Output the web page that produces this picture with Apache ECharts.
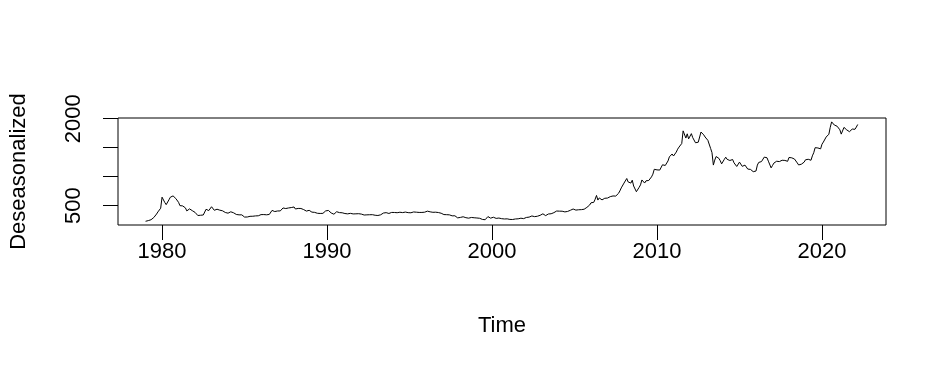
<!DOCTYPE html>
<html>
<head>
<meta charset="utf-8">
<script src="https://cdn.jsdelivr.net/npm/echarts@6/dist/echarts.min.js"></script>
<style>html,body{margin:0;padding:0;background:#fff}#c{width:946px;height:372px}</style>
</head>
<body>
<div id="c"></div>
<script>
// Monthly deseasonalized values, starting January 1979
const startYear = 1979;
const vals1979_1984 = [
  230,245,242,239,257,279,295,301,355,392,392,456,
  646,640,554,517,514,600,645,627,668,650,623,596,
  557,500,499,495,480,461,409,410,444,437,413,410,
  384,374,330,350,334,315,339,364,437,422,415,444,
  481,491,420,432,438,413,422,416,411,394,382,388,
  370,386,394,381,377,378,348,348,341,340,341,320
];
const vals1985_1990 = [
  303,299,304,325,316,317,317,330,323,326,325,322,
  345,339,346,340,342,343,348,376,418,423,398,391,
  408,401,409,438,460,450,450,461,460,465,467,486,
  477,442,443,452,451,451,437,432,413,406,420,419,
  404,388,390,384,371,368,375,365,362,367,394,409,
  410,417,393,374,369,352,362,395,389,380,381,377
];
const vals1991_1996 = [
  383,364,363,358,357,367,368,357,349,359,361,361,
  354,354,345,338,337,341,353,343,345,344,335,334,
  329,330,330,342,367,372,392,379,355,365,373,383,
  387,382,384,378,381,386,385,380,391,389,384,379,
  379,377,382,391,385,387,386,383,383,383,386,387,
  400,405,396,393,392,385,383,387,383,381,378,369
];
const vals1997_2002 = [
  355,346,352,344,344,341,324,324,323,325,306,289,
  289,297,296,308,299,292,293,284,289,296,294,291,
  287,287,286,282,277,262,256,257,264,311,293,284,
  284,300,286,280,275,286,282,275,273,270,266,272,
  266,262,263,261,272,270,268,273,283,283,276,276,
  282,296,294,302,314,322,314,310,319,317,319,333
];
const vals2003_2008 = [
  357,359,341,328,355,356,351,360,379,379,389,407,
  414,405,406,404,384,392,398,400,406,420,439,442,
  424,423,434,429,422,431,424,438,456,470,476,510,
  549,555,557,610,676,596,633,632,599,585,627,629,
  631,665,655,679,667,655,665,665,712,754,806,803,
  889,922,968,909,888,889,939,839,829,740,760,816
];
const vals2009_2014 = [
  858,943,924,890,928,946,934,949,996,1043,1127,1135,
  1117,1095,1114,1148,1205,1232,1193,1215,1271,1342,1370,1391,
  1356,1372,1424,1474,1510,1529,1572,1790,1775,1666,1739,1652,
  1656,1742,1673,1650,1585,1596,1594,1626,1770,1747,1721,1684,
  1671,1627,1593,1487,1414,1200,1286,1347,1349,1316,1275,1221,
  1244,1300,1336,1299,1288,1279,1311,1296,1239,1223,1176,1202
];
const vals2015_2022 = [
  1251,1227,1178,1198,1199,1181,1131,1117,1125,1159,1086,1065,
  1097,1200,1246,1243,1260,1276,1337,1341,1326,1267,1236,1152,
  1192,1234,1231,1266,1246,1260,1236,1283,1314,1280,1282,1265,
  1331,1331,1325,1335,1304,1282,1238,1202,1199,1215,1221,1250,
  1291,1320,1300,1285,1283,1359,1413,1500,1511,1495,1471,1480,
  1560,1597,1591,1683,1716,1732,1850,1945,1915,1890,1860,1870,
  1867,1808,1734,1760,1850,1834,1807,1785,1776,1777,1821,1790,
  1817,1856,1900
];
const xTicks = [1980, 1990, 2000, 2010, 2020];
const yTicks = [500, 1000, 1500, 2000];
const yLabels = [500, 2000];

const allVals = [].concat(vals1979_1984, vals1985_1990, vals1991_1996,
  vals1997_2002, vals2003_2008, vals2009_2014, vals2015_2022);
const seriesData = allVals.map((v, i) => [startYear + i / 12, v]);

const font = 'Liberation Sans, Arial, sans-serif';
const chart = echarts.init(document.getElementById('c'), null, {renderer: 'canvas'});
chart.setOption({
  animation: false,
  backgroundColor: '#ffffff',
  grid: {left: 118, right: 60, top: 118, bottom: 147, show: true,
         containLabel: false, outerBoundsMode: 'none',
         borderColor: '#000', borderWidth: 1, backgroundColor: 'transparent'},
  xAxis: {
    type: 'value', min: 1977.33, max: 2023.88,
    splitLine: {show: false},
    axisLine: {show: false},
    axisTick: {show: true, length: 15, customValues: xTicks, lineStyle: {color: '#000', width: 1}},
    axisLabel: {customValues: xTicks, formatter: v => String(v), color: '#000', fontSize: 22, fontFamily: font, margin: 16},
    name: 'Time', nameLocation: 'middle', nameGap: 90,
    nameTextStyle: {color: '#000', fontSize: 22, fontFamily: font}
  },
  yAxis: {
    type: 'value', min: 166, max: 2012,
    splitLine: {show: false},
    axisLine: {show: false},
    axisTick: {show: true, length: 15, customValues: yTicks, lineStyle: {color: '#000', width: 1}},
    axisLabel: {customValues: yLabels, formatter: v => String(v), rotate: 90, color: '#000', fontSize: 22, fontFamily: font, margin: 33},
    name: 'Deseasonalized', nameLocation: 'middle', nameGap: 88,
    nameTextStyle: {color: '#000', fontSize: 22, fontFamily: font}
  },
  series: [{
    type: 'line', data: seriesData, showSymbol: false, symbol: 'none',
    lineStyle: {color: '#000', width: 1}, smooth: false
  }]
});
</script>
</body>
</html>
